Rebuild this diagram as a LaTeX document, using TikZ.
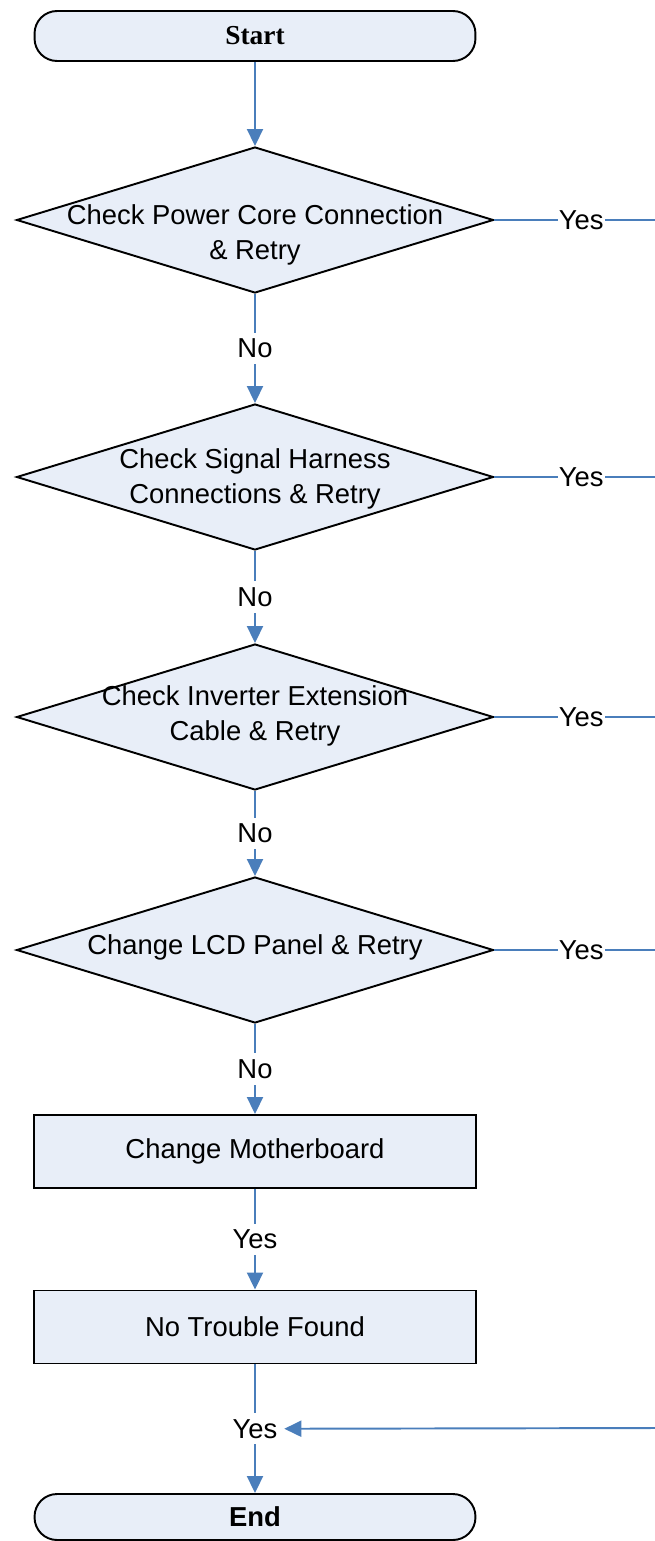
\documentclass[tikz,border=0pt]{standalone}
\usepackage{fontspec}
\setmainfont{Liberation Sans}
\newfontfamily\termfont{Liberation Serif}
\usetikzlibrary{arrows.meta,shapes.geometric}
\definecolor{flowblue}{RGB}{74,126,187}
\definecolor{boxfill}{RGB}{232,238,248}

\begin{document}
\begin{tikzpicture}[x=0.02cm,y=-0.02cm,font=\fontsize{15.6}{19.9}\selectfont,
	terminal/.style={draw=black,line width=1.1pt,fill=boxfill,rounded corners=0.45cm,minimum width=8.82cm,minimum height=1cm,inner sep=0pt},
	decision/.style={diamond,draw=black,line width=1.1pt,fill=boxfill,minimum width=9.54cm,minimum height=2.92cm,inner sep=0pt},
	process/.style={draw=black,line width=1.1pt,fill=boxfill,minimum width=8.86cm,minimum height=1.46cm,inner sep=0pt},
	dtext/.style={align=center,inner sep=0pt},
	flow/.style={draw=flowblue,line width=1.1pt,-{Triangle[length=0.34cm,width=0.32cm]}},
	link/.style={draw=flowblue,line width=1.1pt},
	lbl/.style={fill=white,inner sep=3.4pt},
	sidelbl/.style={fill=white,inner xsep=0.6pt,inner ysep=2pt}]
	\useasboundingbox (0,0) rectangle (655,1541);

	% boxes down the middle
	\node[terminal] (start) at (255,36) {\termfont\bfseries Start};
	\node[decision] (d1) at (255,220) {};
	\node[dtext] (t1) at (255,235) {Check Power Core Connection\\ \& Retry};
	\node[decision] (d2) at (255,477) {};
	\node[dtext] (t2) at (255,479) {Check Signal Harness\\ Connections \& Retry};
	\node[decision] (d3) at (255,717) {};
	\node[dtext] (t3) at (255,716) {Check Inverter Extension\\ Cable \& Retry};
	\node[decision] (d4) at (255,950) {};
	\node[dtext] (t4) at (255,947) {Change LCD Panel \& Retry};
	\node[process] (mb) at (255,1151.5) {Change Motherboard};
	\node[process] (ntf) at (255,1327) {No Trouble Found};
	\node[terminal,minimum height=0.92cm] (end) at (255,1517) {\bfseries End};

	% main flow
	\draw[flow] (start) -- (d1);
	\draw[flow] (d1) -- node[lbl] (n1) {No} (d2);
	\draw[flow] (d2) -- node[lbl] (n2) {No} (d3);
	\draw[flow] (d3) -- node[lbl] (n3) {No} (d4);
	\draw[flow] (d4) -- node[lbl] (n4) {No} (mb);
	\draw[flow] (mb) -- node[lbl] (y5) {Yes} (ntf);
	\draw[flow] (ntf) -- node[lbl] (y6) {Yes} (end);

	% yes branches leaving to the right
	\coordinate (e1) at (658,220);
	\coordinate (e2) at (658,477);
	\coordinate (e3) at (658,717);
	\coordinate (e4) at (658,950);
	\coordinate (e6) at (658,1428);
	\draw[link] (d1.east) -- node[sidelbl,pos=0.53] (y1) {Yes} (e1);
	\draw[link] (d2.east) -- node[sidelbl,pos=0.53] (y2) {Yes} (e2);
	\draw[link] (d3.east) -- node[sidelbl,pos=0.53] (y3) {Yes} (e3);
	\draw[link] (d4.east) -- node[sidelbl,pos=0.53] (y4) {Yes} (e4);
	\draw[flow] (e6) -- (y6.east);
\end{tikzpicture}
\end{document}
